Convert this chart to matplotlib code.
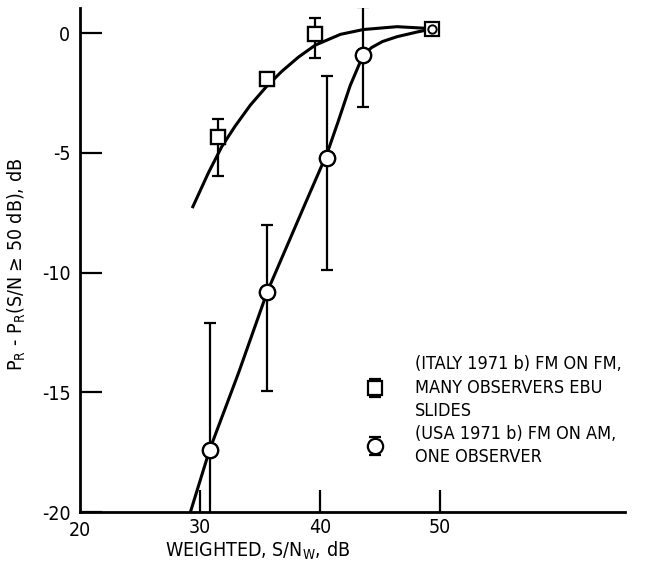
import matplotlib
matplotlib.use('Agg')
import matplotlib.pyplot as plt

# Dados
sq_x = [31.5, 35.6, 39.6]
sq_y = [-4.35, -1.92, -0.05]
sq_err_lo = [1.6, 0.0, 1.0]
sq_err_hi = [0.75, 0.0, 0.67]

circ_x = [30.8, 35.6, 40.6, 43.6]
circ_y = [-17.4, -10.8, -5.2, -0.9]
circ_err_lo = [3.0, 4.15, 4.7, 2.2]
circ_err_hi = [5.3, 2.8, 3.4, 2.0]

ref_x = [49.3]
ref_y = [0.17]

# curvas tracadas a mao
sq_curve_x = [29.4, 30.7, 31.8, 32.9, 34.2, 35.5, 36.8, 38.2, 39.6, 41.7, 43.6, 46.4, 48.9, 49.3]
sq_curve_y = [-7.25, -5.83, -4.75, -3.9, -3.0, -2.25, -1.6, -1.0, -0.5, -0.05, 0.15, 0.27, 0.2, 0.17]

circ_curve_x = [29.2, 30.8, 33.2, 35.6, 38.9, 40.6, 41.5, 42.5, 43.6, 44.3, 45.2, 46.4, 48.1, 49.3]
circ_curve_y = [-20.0, -17.4, -14.2, -10.8, -6.96, -5.0, -3.7, -2.2, -0.9, -0.6, -0.35, -0.15, 0.05, 0.17]

x_ticks = [30, 40, 50]
x_ticklabels = ['30', '40', '50']
y_ticks = [0, -5, -10, -15, -20]
y_ticklabels = ['0', '-5', '-10', '-15', '-20']

lbl_italy = '(ITALY 1971 b) FM ON FM,\nMANY OBSERVERS EBU\nSLIDES'
lbl_usa = '(USA 1971 b) FM ON AM,\nONE OBSERVER'

plt.rcParams['font.family'] = ['DejaVu Sans']
plt.rcParams['font.stretch'] = 'condensed'
plt.rcParams['mathtext.fontset'] = 'custom'
plt.rcParams['mathtext.rm'] = 'DejaVu Sans:stretch=condensed'
plt.rcParams['axes.unicode_minus'] = False

fig = plt.figure(figsize=(6.45, 5.66), dpi=100)
ax = fig.add_axes([80 / 645, 1 - 512 / 566, (625 - 80) / 645, (512 - 8) / 566])

ax.plot(sq_curve_x, sq_curve_y, color='black', lw=2.2, zorder=2)
ax.plot(circ_curve_x, circ_curve_y, color='black', lw=2.2, zorder=2)

eb_sq = ax.errorbar(sq_x, sq_y, yerr=[sq_err_lo, sq_err_hi], fmt='s', ms=10,
                    mfc='white', mec='black', mew=1.6, ecolor='black',
                    elinewidth=1.6, capsize=4, capthick=1.8, zorder=3)
eb_ci = ax.errorbar(circ_x, circ_y, yerr=[circ_err_lo, circ_err_hi], fmt='o', ms=11,
                    mfc='white', mec='black', mew=1.6, ecolor='black',
                    elinewidth=1.6, capsize=4.5, capthick=1.8, zorder=3)
# marcadores por cima das barras
ax.plot(sq_x, sq_y, 's', ms=10, mfc='white', mec='black', mew=1.6, zorder=4)
ax.plot(circ_x, circ_y, 'o', ms=11, mfc='white', mec='black', mew=1.6, zorder=4)
# ponto de referencia (quadrado com circulo)
ax.plot(ref_x, ref_y, 's', ms=10, mfc='white', mec='black', mew=1.6, zorder=4)
ax.plot(ref_x, ref_y, 'o', ms=6, mfc='white', mec='black', mew=1.4, zorder=5)

ax.set_xlim(20, 65.4)
ax.set_ylim(-20, 1.05)
ax.set_xticks(x_ticks)
ax.set_xticklabels(x_ticklabels)
ax.set_yticks(y_ticks)
ax.set_yticklabels(y_ticklabels)
ax.tick_params(axis='both', direction='in', length=16, width=1.6, labelsize=14)
ax.tick_params(axis='x', pad=4)
ax.tick_params(axis='y', pad=7)
for s in ['top', 'right']:
    ax.spines[s].set_visible(False)
for s in ['left', 'bottom']:
    ax.spines[s].set_linewidth(2.0)

fig.text(80 / 645, 1 - 530 / 566, '20', ha='center', va='center', fontsize=14)
fig.text(258 / 645, 1 - 551 / 566, 'WEIGHTED, S/N$_\\mathrm{W}$, dB',
         ha='center', va='center', fontsize=14)
fig.text(17 / 645, 1 - 264 / 566, 'P$_\\mathrm{R}$ - P$_\\mathrm{R}$(S/N \u2265 50 dB), dB',
         ha='center', va='center', rotation=90, fontsize=14)

leg = ax.legend([eb_sq, eb_ci], [lbl_italy, lbl_usa], loc='upper left',
                bbox_to_anchor=(355 / 645, 1 - 346 / 566), bbox_transform=fig.transFigure,
                frameon=False, fontsize=13, handlelength=1.2, handletextpad=1.6,
                labelspacing=0.25, borderpad=0)
for t in leg.get_texts():
    t.set_linespacing(1.4)

fig.savefig('out.png', dpi=100)
